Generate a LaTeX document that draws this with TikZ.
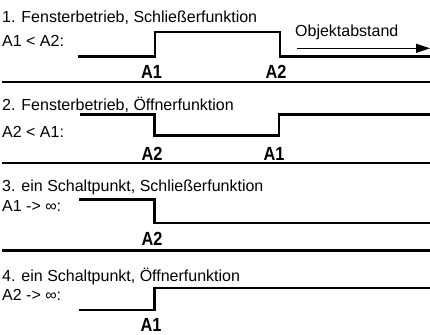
\documentclass[tikz,border=0pt]{standalone}
\usepackage{fontspec}
\setmainfont{Liberation Sans}
\usetikzlibrary{arrows.meta}
\tikzset{
  txt/.style={anchor=base west, inner sep=0pt, font=\fontsize{16}{16}\selectfont},
  lab/.style={anchor=base, inner sep=0pt, font=\fontsize{19}{19}\selectfont\bfseries},
  sig/.style={line width=2.6pt, line join=miter, line cap=butt},
  sep/.style={line width=2.2pt},
  dirarrow/.style={line width=1pt, -{Triangle[length=14pt,width=9pt]}}
}
\newcommand{\lbl}[1]{\scalebox{0.86}[1]{#1}}
\begin{document}
\begin{tikzpicture}[x=1pt,y=-1pt]
\useasboundingbox (0,0) rectangle (430,334);
% Section 1
\node[txt] (t1) at (2,23) {1. Fensterbetrieb, Schließerfunktion};
\node[txt] (c1) at (2,46.5) {A1 < A2:};
\draw[sig] (78,56.5) -- (155,56.5) -- (155,32) -- (280,32) -- (280,56.5) -- (430,56.5);
\node[txt] (obj) at (295,36.7) {Objektabstand};
\coordinate (arrS) at (297,48.3);
\coordinate (arrE) at (430,48.3);
\draw[dirarrow] (arrS) -- (arrE);
\node[lab] (l1a) at (151.5,78) {\lbl{A1}};
\node[lab] (l1b) at (276,78) {\lbl{A2}};
\draw[sep] (2,82) -- (430,82);
% Section 2
\node[txt] (t2) at (2,110.5) {2. Fensterbetrieb, Öffnerfunktion};
\node[txt] (c2) at (2,137) {A2 < A1:};
\draw[sig] (80,114.7) -- (154.7,114.7) -- (154.7,135.3) -- (279,135.3) -- (279,114.7) -- (430,114.7);
\node[lab] (l2a) at (152,160) {\lbl{A2}};
\node[lab] (l2b) at (274,160) {\lbl{A1}};
\draw[sep] (2,163) -- (430,163);
% Section 3
\node[txt] (t3) at (2,191.5) {3. ein Schaltpunkt, Schließerfunktion};
\node[txt] (c3) at (2,211.5) {A1 -> ∞:};
\draw[sig] (79.3,199.5) -- (154.7,199.5) -- (154.7,222.8) -- (430,222.8);
\node[lab] (l3a) at (152,245.5) {\lbl{A2}};
\draw[sep] (2,250.5) -- (430,250.5);
% Section 4
\node[txt] (t4) at (2,281.5) {4. ein Schaltpunkt, Öffnerfunktion};
\node[txt] (c4) at (2,300) {A2 -> ∞:};
\draw[sig] (79,310) -- (154.5,310) -- (154.5,288) -- (430,288);
\node[lab] (l4a) at (151,331.5) {\lbl{A1}};
\end{tikzpicture}
\end{document}
